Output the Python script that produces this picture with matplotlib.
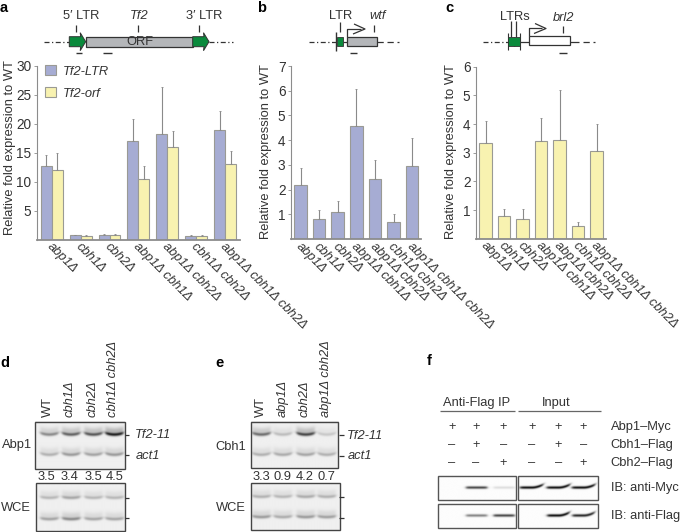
import numpy as np
import matplotlib
matplotlib.use("Agg")
import matplotlib.pyplot as plt
from matplotlib.patches import Rectangle, Polygon
from matplotlib.transforms import ScaledTranslation

plt.rcParams["font.family"] = ["Liberation Sans", "DejaVu Sans"]

W, H = 685, 532
FS = 9.3
TXT = "#333333"
AXC = "#8c8c8c"
BLUE = "#a6acd3"
YELLOW = "#f8f2b0"
GREEN = "#0a8a3c"
EDGE = "#9a9a94"

# -------------------------------------------------------
# DATA
# -------------------------------------------------------
strains = ["abp1Δ", "cbh1Δ", "cbh2Δ", "abp1Δ cbh1Δ", "abp1Δ cbh2Δ",
           "cbh1Δ cbh2Δ", "abp1Δ cbh1Δ cbh2Δ"]

a_ltr     = [12.6, 0.7, 0.7, 17.0, 18.2, 0.6, 18.9]
a_ltr_err = [1.9, 0.1, 0.2, 3.8, 8.1, 0.2, 3.3]
a_orf     = [12.0, 0.6, 0.7, 10.5, 16.0, 0.6, 13.1]
a_orf_err = [2.9, 0.15, 0.25, 2.1, 2.7, 0.15, 2.1]

b_vals = [2.2, 0.8, 1.08, 4.58, 2.42, 0.68, 2.97]
b_err  = [0.68, 0.37, 0.44, 1.47, 0.78, 0.33, 1.13]

c_vals = [3.35, 0.8, 0.7, 3.4, 3.45, 0.45, 3.05]
c_err  = [0.75, 0.22, 0.32, 0.8, 1.72, 0.12, 0.95]

# gel band strengths, one row per band, one column per lane
d_lanes = [49.3, 71, 93.3, 114.3]
d_ip    = [[0.36, 0.5, 0.54, 0.74], [0.22, 0.3, 0.27, 0.3]]
d_wce   = [[0.2, 0.26, 0.2, 0.2], [0.27, 0.36, 0.26, 0.26]]
d_ratio = ["3.5", "3.4", "3.5", "4.5"]
d_names = ["WT", "cbh1Δ", "cbh2Δ", "cbh1Δ cbh2Δ"]

e_lanes = [261, 282.3, 305, 326]
e_ip    = [[0.46, 0.18, 0.6, 0.14], [0.22, 0.24, 0.26, 0.22]]
e_wce   = [[0.22, 0.2, 0.24, 0.22], [0.3, 0.24, 0.3, 0.28]]
e_ratio = ["3.3", "0.9", "4.2", "0.7"]
e_names = ["WT", "abp1Δ", "cbh2Δ", "abp1Δ cbh2Δ"]

f_lanes = [451.7, 476, 503.3, 531.7, 558.3, 583.3]
f_rows  = ["Abp1–Myc", "Cbh1–Flag", "Cbh2–Flag"]
f_signs = [["+", "+", "+", "+", "+", "+"],
           ["–", "+", "–", "–", "+", "–"],
           ["–", "–", "+", "–", "–", "+"]]
f_myc   = [0.0, 0.72, 0.12, 0.95, 0.95, 0.95]
f_flag  = [0.0, 0.48, 0.72, 0.0, 0.95, 0.85]


def px_axes(left, right, top, bottom):
    return fig.add_axes([left / W, 1 - bottom / H, (right - left) / W, (bottom - top) / H])


def bar_axes(left, right, top, bottom, ymax, c0, pitch):
    ax = px_axes(left, right, top, bottom)
    ax.set_ylim(0, ymax)
    ax.set_xlim((left - c0) / pitch, (right - c0) / pitch)
    ax.patch.set_alpha(0)
    for s in ["top", "right"]:
        ax.spines[s].set_visible(False)
    ax.spines["left"].set_color(AXC)
    ax.spines["left"].set_linewidth(0.8)
    ax.spines["bottom"].set_color(AXC)
    ax.spines["bottom"].set_linewidth(1.3)
    ax.tick_params(axis="y", length=2, width=0.6, color=AXC, labelsize=FS + 0.5,
                   labelcolor=TXT, pad=2)
    ax.set_xticks(np.arange(len(strains)))
    ax.set_xticklabels(strains, rotation=-45, rotation_mode="anchor", ha="left", va="center",
                       style="italic", fontsize=FS, color=TXT)
    ax.tick_params(axis="x", length=0, pad=4)
    # labels start a little left of the bar centre
    shift = ScaledTranslation(-3 / 100, 0, fig.dpi_scale_trans)
    for lab in ax.get_xticklabels():
        lab.set_transform(lab.get_transform() + shift)
    return ax


def draw_bars(ax, x, vals, errs, color, width):
    ax.bar(x, vals, width, color=color, edgecolor=EDGE, linewidth=0.8)
    ax.errorbar(x, vals, yerr=[np.zeros(len(errs)), errs], fmt="none", ecolor="#8a8a8a",
                elinewidth=0.8, capsize=0.6, capthick=0.6)


def gel(x0, x1, y0, y1, lanes, ys, strengths, half=9.0, sig=1.6, smile=1.6):
    yy, xx = np.mgrid[y0:y1:0.25, x0:x1:0.25]
    img = np.full(xx.shape, 0.94)
    for row, yc in zip(strengths, ys):
        for lane, s in zip(lanes, row):
            u = (xx - lane) / half
            prof = 0.5 * (np.tanh((1 - u) * 5) + np.tanh((1 + u) * 5))
            yb = yc - smile * u ** 2
            img -= s * prof * np.exp(-((yy - yb) / sig) ** 2)
            img -= 0.3 * s * prof * np.exp(-((yy - yb + 3.5) / 3.5) ** 2)
    ov.imshow(np.clip(img, 0, 1), cmap="gray", vmin=0, vmax=1, extent=[x0, x1, y1, y0],
              aspect="auto", interpolation="bilinear", zorder=1)
    ov.add_patch(Rectangle((x0, y0), x1 - x0, y1 - y0, fill=False, ec="#444444", lw=1.0, zorder=2))


def band(x0, x1, y0, y1, lanes, strengths, half, tilt):
    yy, xx = np.mgrid[y0:y1:0.25, x0:x1:0.25]
    img = np.full(xx.shape, 0.99)
    yc = (y0 + y1) / 2
    for lane, s in zip(lanes, strengths):
        u = (xx - lane) / half
        prof = 0.5 * (np.tanh((1 - u) * 6) + np.tanh((1 + u) * 6))
        img -= s * prof * np.exp(-((yy - yc + tilt * np.clip(u, 0, 1.2) ** 2) / 1.3) ** 2)
    ov.imshow(np.clip(img, 0, 1), cmap="gray", vmin=0, vmax=1, extent=[x0, x1, y1, y0],
              aspect="auto", interpolation="bilinear", zorder=1)
    ov.add_patch(Rectangle((x0, y0), x1 - x0, y1 - y0, fill=False, ec="#555555", lw=1.0, zorder=2))


def t(x, y, s, ha="center", va="center", **kw):
    kw.setdefault("fontsize", FS)
    kw.setdefault("color", TXT)
    ov.text(x, y, s, ha=ha, va=va, **kw)


def seg(xs, ys, lw=0.9, color="#333333", ls="-"):
    ov.plot(xs, ys, color=color, lw=lw, ls=ls, solid_capstyle="butt", zorder=3)


def arrow_block(x0, x1, yc):
    ov.add_patch(Polygon([(x0, yc - 5), (x1 - 5, yc - 5), (x1 - 5.5, yc - 9), (x1, yc),
                          (x1 - 5.5, yc + 9), (x1 - 5, yc + 5), (x0, yc + 5)],
                         closed=True, fc=GREEN, ec="#333333", lw=0.7, zorder=4))


def promoter(x, x_end, yb):
    seg([x, x, x_end - 4], [yb, yb - 8, yb - 8])
    seg([x_end - 11, x_end, x_end - 12], [yb - 12.5, yb - 7.5, yb - 2.5])


fig = plt.figure(figsize=(W / 100, H / 100), dpi=100, facecolor="white")

# -------------------------------------------------------
# BAR CHARTS
# -------------------------------------------------------
ax_a = bar_axes(37, 240, 65.5, 239.5, 30, 51.7, 28.9)
x = np.arange(len(strains))
ltr_x = x - 0.19
orf_x = x + 0.19
draw_bars(ax_a, ltr_x, a_ltr, a_ltr_err, BLUE, 0.38)
draw_bars(ax_a, orf_x, a_orf, a_orf_err, YELLOW, 0.38)
ax_a.set_yticks([5, 10, 15, 20, 25, 30])
hs = [Rectangle((0, 0), 1, 1, fc=BLUE, ec=EDGE, lw=0.8),
      Rectangle((0, 0), 1, 1, fc=YELLOW, ec=EDGE, lw=0.8)]
ax_a.legend(hs, ["Tf2-LTR", "Tf2-orf"], loc="upper left", bbox_to_anchor=(0.04, 1.0), frameon=False,
            prop={"style": "italic", "size": FS}, handlelength=0.88, handleheight=0.8,
            labelspacing=0.72, handletextpad=0.47, borderpad=0, borderaxespad=0,
            labelcolor=TXT)

ax_b = bar_axes(291, 420.7, 66, 239, 7, 300.5, 18.6)
draw_bars(ax_b, x, b_vals, b_err, BLUE, 0.68)
ax_b.set_yticks(np.arange(1, 8))

ax_c = bar_axes(476, 605.7, 66.7, 238.7, 6, 485.5, 18.5)
draw_bars(ax_c, x, c_vals, c_err, YELLOW, 0.67)
ax_c.set_yticks(np.arange(1, 7))

# -------------------------------------------------------
# OVERLAY IN PIXEL COORDS: schematics, gels, text
# -------------------------------------------------------
ov = fig.add_axes([0, 0, 1, 1])
ov.axis("off")

for s, px, py in [("a", 4, 8), ("b", 262, 8), ("c", 449, 8), ("d", 5, 363), ("e", 220, 363), ("f", 429, 361)]:
    t(px, py, s, fontweight="bold", fontsize=10.5, color="black")

for px, py in [(10, 148), (265.7, 152), (451, 152)]:
    t(px, py, "Relative fold expression to WT", rotation=90)

# schematic a
seg([44, 69], [41.7, 41.7], ls=(0, (4, 2, 1, 2)))
seg([209, 233], [41.7, 41.7], ls=(0, (4, 2, 1, 2)))
ov.add_patch(Rectangle((85.7, 36.6), 107, 10, fc="#b4b6b9", ec="#333333", lw=0.9, zorder=3))
arrow_block(69.3, 85.7, 41.7)
arrow_block(192.7, 209, 41.7)
t(81, 15.7, "5′ LTR")
t(139, 15.7, "Tf2", style="italic")
t(203.7, 15.7, "3′ LTR")
t(140, 42, "ORF", zorder=5)
for px in [76, 138.3, 199.3]:
    seg([px, px], [25, 31.7])
seg([75.7, 82.3], [52.7, 52.7], lw=1.0)
seg([103, 111.7], [52.7, 52.7], lw=1.0)

# schematic b
seg([309, 335.7], [41.7, 41.7], ls=(0, (4, 2, 1, 2)))
seg([342.7, 347.3], [41.7, 41.7])
seg([377, 399], [41.7, 41.7], ls=(0, (5, 3)))
ov.add_patch(Rectangle((336.7, 36.7), 6, 9, fc=GREEN, ec="#333333", lw=0.6, zorder=4))
seg([336.2, 336.2], [32, 50.5], lw=1.0)
ov.add_patch(Rectangle((347.3, 36.5), 29.4, 9, fc="#b4b6b9", ec="#333333", lw=0.9, zorder=3))
promoter(347.3, 365, 36.5)
t(340.7, 16, "LTR")
t(377.7, 16, "wtf", style="italic")
seg([340.3, 340.3], [21.7, 32])
seg([374, 374], [25, 32])
seg([350, 357.3], [52.7, 52.7], lw=1.0)

# schematic c
seg([483, 507.7], [41.7, 41.7], ls=(0, (4, 2, 1, 2)))
seg([520, 529], [41.7, 41.7])
seg([570.3, 579], [41.7, 41.7])
seg([583, 595], [41.7, 41.7], ls=(0, (5, 3)))
ov.add_patch(Rectangle((507.7, 37.3), 12.3, 8.4, fc=GREEN, ec="#333333", lw=0.6, zorder=4))
seg([514.3, 514.3], [36.5, 46], lw=1.0, color="#222222")
seg([507.7, 507.7], [33, 50], lw=0.8)
seg([520, 520], [33, 50], lw=0.8)
ov.add_patch(Rectangle((529, 36), 41.3, 9, fc="white", ec="#333333", lw=0.9, zorder=3))
promoter(529, 546, 36)
t(514.5, 16.7, "LTRs")
t(564, 18, "brl2", style="italic")
seg([510.7, 510.7], [21, 37])
seg([515.7, 515.7], [21, 37])
seg([563.3, 563.3], [26, 33])
seg([559.3, 566.7], [52.7, 52.7], lw=1.0)

# gel d
gel(35, 125, 421.7, 469, d_lanes, [435, 455], d_ip)
gel(36, 124.7, 483, 531, d_lanes, [497.7, 519], d_wce, smile=1.0)
for px, name in zip(d_lanes, d_names):
    t(px - 1, 417, name, va="bottom", rotation=90, style="normal" if name == "WT" else "italic")
for px, val in zip([46.5, 70, 93.5, 115], d_ratio):
    t(px, 477.5, val)
t(17, 445, "Abp1")
t(16, 508, "WCE")
for yy in [435, 455, 497.7, 517.7]:
    seg([125, 129], [yy, yy])
t(135, 435.5, "Tf2-11", ha="left", style="italic")
t(136, 456, "act1", ha="left", style="italic")

# gel e
gel(250.7, 338, 421.7, 468, e_lanes, [435, 455], e_ip)
gel(250.7, 340, 483, 530, e_lanes, [496.7, 517], e_wce, smile=1.0)
for px, name in zip(e_lanes, e_names):
    t(px, 417, name, va="bottom", rotation=90, style="normal" if name == "WT" else "italic")
for px, val in zip([261, 283, 305, 326.5], e_ratio):
    t(px, 476.5, val)
t(231, 447, "Cbh1")
t(231, 508, "WCE")
for yy in [435, 456, 496.7, 518]:
    seg([339, 344], [yy, yy])
t(347, 436, "Tf2-11", ha="left", style="italic")
t(348, 456, "act1", ha="left", style="italic")

# panel f
t(477, 403, "Anti-Flag IP")
t(556, 403, "Input")
seg([440, 515], [411, 411], color="#666666")
seg([518, 601], [411, 411], color="#666666")
for yy, name, row in zip([427.3, 445, 463.3], f_rows, f_signs):
    for px, sign in zip(f_lanes, row):
        t(px, yy, sign)
    t(610.7, yy, name, ha="left")
band(437.7, 516, 475.7, 500.3, f_lanes[:3], f_myc[:3], 10.5, 0.0)
band(518.3, 597.7, 475.7, 500.3, f_lanes[3:], f_myc[3:], 11.5, 3.0)
band(437.7, 516, 503.7, 527.7, f_lanes[:3], f_flag[:3], 10.5, 0.0)
band(518.3, 597.7, 503.7, 527.7, f_lanes[3:], f_flag[3:], 11, 3.0)
t(610.7, 487.7, "IB: anti-Myc", ha="left")
t(610.7, 515.7, "IB: anti-Flag", ha="left")

ov.set_xlim(0, W)
ov.set_ylim(H, 0)

fig.savefig("out.png", dpi=100)
plt.close(fig)
